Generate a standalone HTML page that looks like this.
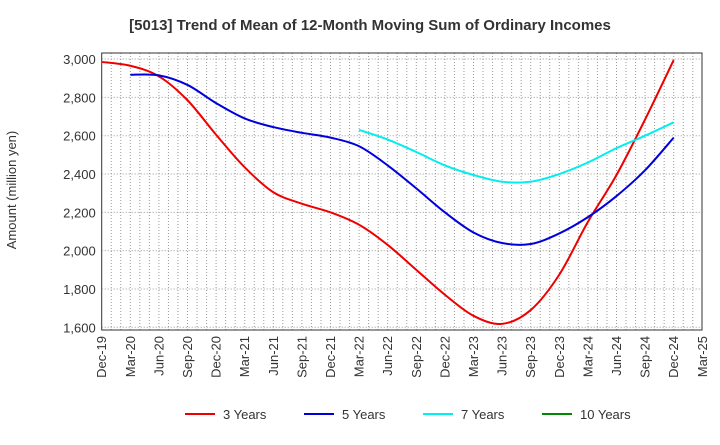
<!DOCTYPE html>
<html><head><meta charset="utf-8"><style>
body{margin:0;background:#fff;font-family:"Liberation Sans",sans-serif}
</style></head><body>
<svg id="c" width="720" height="440" xmlns="http://www.w3.org/2000/svg" font-family="Liberation Sans, sans-serif">
<text x="370" y="30" text-anchor="middle" font-size="15" font-weight="bold" fill="#333">[5013]  Trend of Mean of 12-Month Moving Sum of Ordinary Incomes</text>
<text transform="translate(16,190) rotate(-90)" text-anchor="middle" font-size="13" fill="#333">Amount (million yen)</text>
<g id="grid"></g><g id="axes"></g><g id="series"></g><g id="legend"></g>
</svg>
<script>
const xLabels=["Dec-19","Mar-20","Jun-20","Sep-20","Dec-20","Mar-21","Jun-21","Sep-21","Dec-21","Mar-22","Jun-22","Sep-22","Dec-22","Mar-23","Jun-23","Sep-23","Dec-23","Mar-24","Jun-24","Sep-24","Dec-24","Mar-25"];
const yTicks=[1600,1800,2000,2200,2400,2600,2800,3000];
const seriesNames=["3 Years","5 Years","7 Years","10 Years"];
const seriesColors=["#ee0000","#0000dd","#00eeee","#008800"];
const red=[2985,2965,2910,2785,2605,2435,2305,2245,2200,2135,2030,1900,1770,1660,1618,1690,1875,2150,2395,2685,2995];
const blue=[null,2918,2915,2865,2770,2690,2645,2615,2590,2545,2445,2325,2200,2095,2040,2035,2090,2175,2285,2420,2590];
const cyan=[null,null,null,null,null,null,null,null,null,2630,2580,2515,2445,2395,2360,2360,2400,2460,2535,2600,2670];
const green=[];
const NS="http://www.w3.org/2000/svg";
const L=101.7,R=702,T=53,B=330;
const X=i=>L+i*28.6;
const Y=v=>327.3-(v-1600)*0.1916;
function mk(t,a,p){const e=document.createElementNS(NS,t);for(const k in a)e.setAttribute(k,a[k]);p.appendChild(e);return e;}
const grid=document.getElementById('grid'),axes=document.getElementById('axes'),ser=document.getElementById('series'),leg=document.getElementById('legend');
for(let m=1;m<63;m++){const x=L+m*28.6/3;const l=mk('line',{x1:x,x2:x,y1:T,y2:B,stroke:'#999','stroke-dasharray':'1,2','stroke-width':1},grid);

}
yTicks.forEach(v=>{const l=mk('line',{x1:L,x2:R,y1:Y(v),y2:Y(v),stroke:'#999','stroke-dasharray':'1,2','stroke-width':1},grid);


const t=mk('text',{x:L-6,y:Y(v)+5,'text-anchor':'end','font-size':13,fill:'#333'},axes);t.textContent=v.toLocaleString('en-US');

});
const fr=mk('rect',{x:L,y:T,width:R-L,height:B-T,fill:'none',stroke:'#333','stroke-width':1},axes);


xLabels.forEach((s,i)=>{const t=mk('text',{transform:`translate(${X(i)+4.5},${B+6}) rotate(-90)`,'text-anchor':'end','font-size':13,fill:'#333'},axes);t.textContent=s;

});
function path(arr){const p=[];arr.forEach((v,i)=>{if(v!=null)p.push([X(i),Y(v)]);});if(p.length<2)return '';
let d=`M${p[0][0]},${p[0][1]}`;for(let i=0;i<p.length-1;i++){const p0=p[i-1]||p[i],p1=p[i],p2=p[i+1],p3=p[i+2]||p2;
d+=` C${p1[0]+(p2[0]-p0[0])/6},${p1[1]+(p2[1]-p0[1])/6} ${p2[0]-(p3[0]-p1[0])/6},${p2[1]-(p3[1]-p1[1])/6} ${p2[0]},${p2[1]}`;}return d;}
[red,blue,cyan,green].forEach((a,k)=>{const d=path(a);if(!d)return;const e=mk('path',{d:d,fill:'none',stroke:seriesColors[k],'stroke-width':2},ser);

});
const lx=[185,304,423,542];
seriesNames.forEach((n,k)=>{const g=mk('g',{},leg);


mk('line',{x1:lx[k],x2:lx[k]+30,y1:414,y2:414,stroke:seriesColors[k],'stroke-width':2},g);
const t=mk('text',{x:lx[k]+38,y:419,'font-size':13,fill:'#333'},g);t.textContent=n;});
</script>
</body></html>
